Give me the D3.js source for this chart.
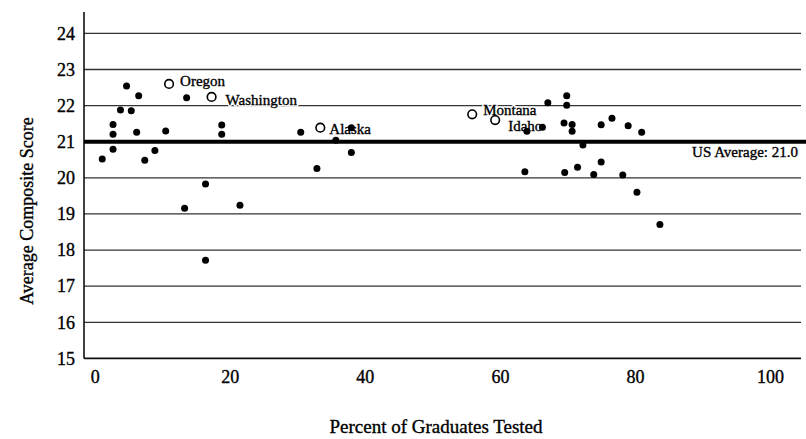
<!DOCTYPE html>
<html>
<head>
<meta charset="utf-8">
<script src="https://cdn.jsdelivr.net/npm/d3@7"></script>
<style>
  body { margin: 0; background: #fff; }
  svg { display: block; }
  text { font-family: "Liberation Serif", "DejaVu Serif", serif; fill: #000; }
  .zwaar { stroke: #000; stroke-width: 0.35px; }
</style>
</head>
<body>
<svg id="grafiek" width="806" height="439"></svg>
<script>
// percentage geteste leerlingen (x) en gemiddelde score (y) per staat
let percentTested = [4.7, 6.5, 3.8, 5.4, 2.7, 2.7, 6.2, 10.5, 2.7, 1.1, 7.4, 8.9, 13.6, 16.4, 13.3, 21.5, 16.4, 18.8, 18.8,
    30.5, 35.7, 38.0, 38.0, 32.9,
    64.0, 66.3, 67.1, 69.9, 69.9, 69.5, 70.7, 70.7, 72.3, 63.7, 69.6, 71.5, 73.9, 75.0, 75.0, 76.6, 79.0, 78.2, 80.3, 81.0, 83.7];
let compositeScore = [22.54, 22.27, 21.88, 21.86, 21.48, 21.21, 21.26, 21.30, 20.79, 20.52, 20.49, 20.76, 22.22, 19.83, 19.16, 19.24, 17.72, 21.46, 21.21,
    21.26, 21.04, 21.39, 20.70, 20.26,
    21.29, 21.40, 22.08, 22.27, 22.01, 21.52, 21.48, 21.29, 20.91, 20.17, 20.15, 20.29, 20.09, 20.44, 21.47, 21.65, 21.44, 20.08, 19.60, 21.26, 18.71];

// de vijf staten met een open cirkel en naam
let highlightNames = ["Oregon", "Washington", "Alaska", "Montana", "Idaho"];
let highlightX = [11.0, 17.3, 33.4, 55.9, 59.3];
let highlightY = [22.60, 22.24, 21.39, 21.76, 21.60];

let usAverage = 21.0;

let xTicks = [0, 20, 40, 60, 80, 100];
let yTicks = [15, 16, 17, 18, 19, 20, 21, 22, 23, 24];

// plaats van de namen ten opzichte van de cirkel
let labelOffset = {
    "Oregon": [11, 2],
    "Washington": [14, 8.5],
    "Alaska": [9, 6.5],
    "Montana": [11, 1],
    "Idaho": [13, 10.5]
};

let data = percentTested.map(function (d, i) {
    return { x: d, y: compositeScore[i] };
});
let highlights = highlightNames.map(function (d, i) {
    return { name: d, x: highlightX[i], y: highlightY[i] };
});

//schalen
var xScale = d3.scaleLinear()
    .domain([-1.6, 104.6])
    .range([84, 801]);

var yScale = d3.scaleLinear()
    .domain([15, 24])
    .range([358.4, 33.4]);

var svg = d3.select('#grafiek');

// rasterlijnen
svg.append('g')
    .selectAll('line')
    .data(yTicks.filter(function (d) { return d > 15; }))
    .join('line')
    .attr('x1', xScale(-1.6))
    .attr('x2', xScale(104.6))
    .attr('y1', function (d) { return yScale(d); })
    .attr('y2', function (d) { return yScale(d); })
    .attr('stroke', '#333')
    .attr('stroke-width', 1.3);

// assen
var yAxis = d3.axisLeft(yScale).tickValues(yTicks).tickSize(0).tickPadding(9);
var gy = svg.append('g')
    .attr('transform', 'translate(' + xScale(-1.6) + ',0)')
    .call(yAxis);
gy.select('.domain').remove();
gy.selectAll('text').attr('class', 'zwaar').style('font-size', '18px').attr('fill', '#000');

var xAxis = d3.axisBottom(xScale).tickValues(xTicks).tickSize(0).tickPadding(12);
var gx = svg.append('g')
    .attr('transform', 'translate(0,' + yScale(15) + ')')
    .call(xAxis);
gx.select('.domain').remove();
gx.selectAll('text').attr('class', 'zwaar').style('font-size', '18px').attr('fill', '#000');

// aslijnen
svg.append('line')
    .attr('x1', xScale(-1.6)).attr('x2', xScale(-1.6))
    .attr('y1', 12).attr('y2', yScale(15))
    .attr('stroke', '#111').attr('stroke-width', 1.6);
svg.append('line')
    .attr('x1', xScale(-1.6)).attr('x2', xScale(104.6))
    .attr('y1', yScale(15)).attr('y2', yScale(15))
    .attr('stroke', '#111').attr('stroke-width', 1.6);

// landelijk gemiddelde
svg.append('line')
    .attr('x1', xScale(-1.6)).attr('x2', 806)
    .attr('y1', yScale(usAverage)).attr('y2', yScale(usAverage))
    .attr('stroke', '#000').attr('stroke-width', 3.8);
svg.append('text')
    .attr('class', 'zwaar')
    .attr('x', 798)
    .attr('y', yScale(usAverage) + 15)
    .attr('text-anchor', 'end')
    .style('font-size', '15px')
    .text('US Average: ' + usAverage.toFixed(1));

// namen van de staten, eerst een witte rand zodat de rasterlijn wegvalt
var namen = svg.append('g');
namen.selectAll('text.rand')
    .data(highlights)
    .join('text')
    .attr('class', 'rand')
    .attr('x', function (d) { return xScale(d.x) + labelOffset[d.name][0]; })
    .attr('y', function (d) { return yScale(d.y) + labelOffset[d.name][1]; })
    .style('font-size', '15px')
    .attr('fill', '#fff')
    .attr('stroke', '#fff')
    .attr('stroke-width', 3)
    .text(function (d) { return d.name; });
namen.selectAll('text.naam')
    .data(highlights)
    .join('text')
    .attr('class', 'naam zwaar')
    .attr('x', function (d) { return xScale(d.x) + labelOffset[d.name][0]; })
    .attr('y', function (d) { return yScale(d.y) + labelOffset[d.name][1]; })
    .style('font-size', '15px')
    .text(function (d) { return d.name; });

// punten
svg.append('g')
    .selectAll('circle')
    .data(data)
    .join('circle')
    .attr('cx', function (d) { return xScale(d.x); })
    .attr('cy', function (d) { return yScale(d.y); })
    .attr('r', 3.5)
    .attr('fill', '#000');

svg.append('g')
    .selectAll('circle')
    .data(highlights)
    .join('circle')
    .attr('cx', function (d) { return xScale(d.x); })
    .attr('cy', function (d) { return yScale(d.y); })
    .attr('r', 4.3)
    .attr('fill', '#fff')
    .attr('stroke', '#000')
    .attr('stroke-width', 1.6);

// astitels
svg.append('text')
    .attr('class', 'zwaar')
    .attr('transform', 'translate(33,211) rotate(-90)')
    .attr('text-anchor', 'middle')
    .style('font-size', '18px')
    .text('Average Composite Score');

svg.append('text')
    .attr('class', 'zwaar')
    .attr('x', 436)
    .attr('y', 433)
    .attr('text-anchor', 'middle')
    .style('font-size', '19px')
    .text('Percent of Graduates Tested');
</script>
</body>
</html>
